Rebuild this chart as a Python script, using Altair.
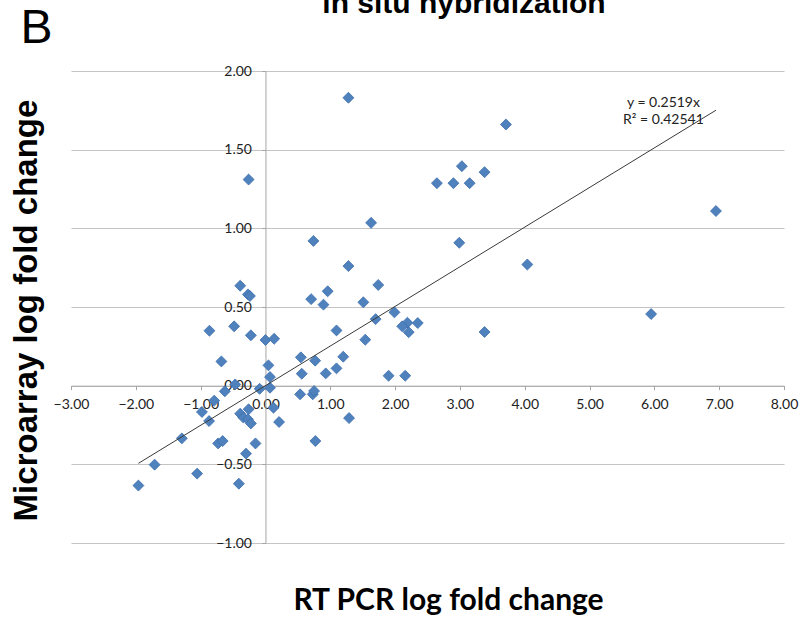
import altair as alt
import pandas as pd

# RT-PCR (x) and microarray (y) log fold changes
rt_pcr = [1.28, -0.26, 3.71, 3.03, 3.38, 2.645, 2.90, 3.15, 6.95, 1.63,
          2.99, 0.74, 4.04, 1.28, -0.39, -0.27, -0.24, 1.74, 0.96, 0.705,
          0.895, 1.51, 1.99, 5.95, 1.70, 2.35, 2.19, 2.11, 2.21, 3.38,
          1.096, -0.864, -0.483, -0.225, 0.0, 0.134, 1.54, 0.546, 0.767, 1.2,
          -0.68, 0.046, 1.096, 0.56, 0.93, 1.90, 2.156, 0.07, -0.467, 0.07,
          -0.09, -0.627, 0.535, 0.73, 0.75, -0.79, 0.124, -0.26, -0.98, -0.87,
          -0.39, -0.34, -0.27, -0.225, 0.21, 1.29, -1.29, -0.73, -0.66, -0.154,
          0.77, -0.30, -1.71, -1.054, -1.96, -0.41]
microarray = [1.83, 1.31, 1.66, 1.395, 1.357, 1.287, 1.287, 1.287, 1.11, 1.035,
              0.908, 0.92, 0.77, 0.76, 0.635, 0.58, 0.57, 0.64, 0.60, 0.55,
              0.515, 0.53, 0.466, 0.455, 0.423, 0.398, 0.40, 0.377, 0.34, 0.341,
              0.351, 0.349, 0.377, 0.32, 0.29, 0.298, 0.292, 0.18, 0.159, 0.184,
              0.154, 0.129, 0.11, 0.076, 0.078, 0.063, 0.063, 0.055, 0.008, -0.013,
              -0.02, -0.036, -0.055, -0.055, -0.034, -0.095, -0.14, -0.15, -0.167, -0.225,
              -0.178, -0.203, -0.214, -0.24, -0.231, -0.206, -0.335, -0.367, -0.352, -0.367,
              -0.352, -0.432, -0.502, -0.559, -0.635, -0.623]

slope = 0.2519
r_squared = 0.42541
x_ticks = [-3, -2, -1, 0, 1, 2, 3, 4, 5, 6, 7, 8]
y_ticks = [-1.0, -0.5, 0.0, 0.5, 1.0, 1.5, 2.0]
chart_title = "in situ hybridization"
panel_label = "B"
x_title = "RT PCR log fold change"
y_title = "Microarray log fold change"

W, H = 713, 472
x_dom = [x_ticks[0], x_ticks[-1]]
y_dom = [y_ticks[0], y_ticks[-1]]
# axes cross at zero (Excel style)
y_axis_offset = -W * (0 - x_dom[0]) / (x_dom[1] - x_dom[0])
x_axis_offset = -H * (0 - y_dom[0]) / (y_dom[1] - y_dom[0])

df = pd.DataFrame({"rt": rt_pcr, "ma": microarray})
xmin, xmax = min(rt_pcr), max(rt_pcr)
trend = pd.DataFrame({"rt": [xmin, xmax], "ma": [slope * xmin, slope * xmax]})

x_scale = alt.Scale(domain=x_dom, nice=False, zero=False)
y_scale = alt.Scale(domain=y_dom, nice=False, zero=False)

x_axis = alt.Axis(
    values=x_ticks, format=".2f", offset=x_axis_offset, grid=False,
    domainColor="#A6A6A6", tickColor="#A6A6A6", tickSize=4,
    labelPadding=8, labelFont="Lato", labelFontSize=14, labelColor="#222222",
    labelFlush=False, labelOverlap=False,
    title=x_title, titleFont="Lato", titleFontSize=30, titleFontWeight="bold",
    titleColor="#000000", titleAlign="center", titleBaseline="middle",
    titleX=377, titleY=600 - 71 - (H + x_axis_offset),
)
y_axis = alt.Axis(
    values=y_ticks, format=".2f", offset=y_axis_offset, grid=True,
    gridColor="#C4C4C4", gridWidth=1,
    domainColor="#A6A6A6", tickColor="#A6A6A6", tickSize=4,
    labelPadding=10, labelFont="Lato", labelFontSize=14, labelColor="#222222",
    labelFlush=False, labelOverlap=False,
    title=y_title, titleFont="Liberation Sans", titleFontSize=33, titleFontWeight="bold",
    titleColor="#000000", titleAlign="center", titleBaseline="middle", titleAngle=270,
    titleX=27 - 71 + y_axis_offset, titleY=310 - 71,
)

points = alt.Chart(df).mark_point(
    shape="diamond", filled=True, size=120, color="#4F81BD",
    stroke="#3E6FAD", strokeWidth=0.8, opacity=1,
).encode(
    x=alt.X("rt:Q", scale=x_scale, axis=x_axis),
    y=alt.Y("ma:Q", scale=y_scale, axis=y_axis),
)

line = alt.Chart(trend).mark_line(color="#3A3A3A", strokeWidth=1).encode(
    x=alt.X("rt:Q", scale=x_scale),
    y=alt.Y("ma:Q", scale=y_scale),
)

eq = alt.Chart(pd.DataFrame({"t": [f"y = {slope}x\nR² = {r_squared}"]})).mark_text(
    font="Lato", fontSize=14, color="#222222", align="center", baseline="top",
    lineBreak="\n", lineHeight=17,
).encode(
    x=alt.datum(6.14, scale=x_scale), y=alt.datum(1.84, scale=y_scale), text="t:N",
)

title_txt = alt.Chart(pd.DataFrame({"t": [chart_title]})).mark_text(
    font="Liberation Sans", fontSize=30, fontWeight="bold", color="#000000",
    align="center", baseline="alphabetic",
).encode(x=alt.value(464 - 71), y=alt.value(13 - 71), text="t:N")

label_txt = alt.Chart(pd.DataFrame({"t": [panel_label]})).mark_text(
    font="Liberation Sans", fontSize=48, color="#000000",
    align="center", baseline="alphabetic",
).encode(x=alt.value(36.5 - 71), y=alt.value(43 - 71), text="t:N")

chart = alt.layer(points, line, eq, title_txt, label_txt).properties(
    width=W, height=H,
    autosize=alt.AutoSizeParams(type="none"),
    padding={"left": 71, "top": 71, "right": 801 - 71 - W, "bottom": 620 - 71 - H},
    background="white",
).configure_view(stroke=None)

chart.save("out.html", embed_options={"renderer": "svg", "actions": False})
